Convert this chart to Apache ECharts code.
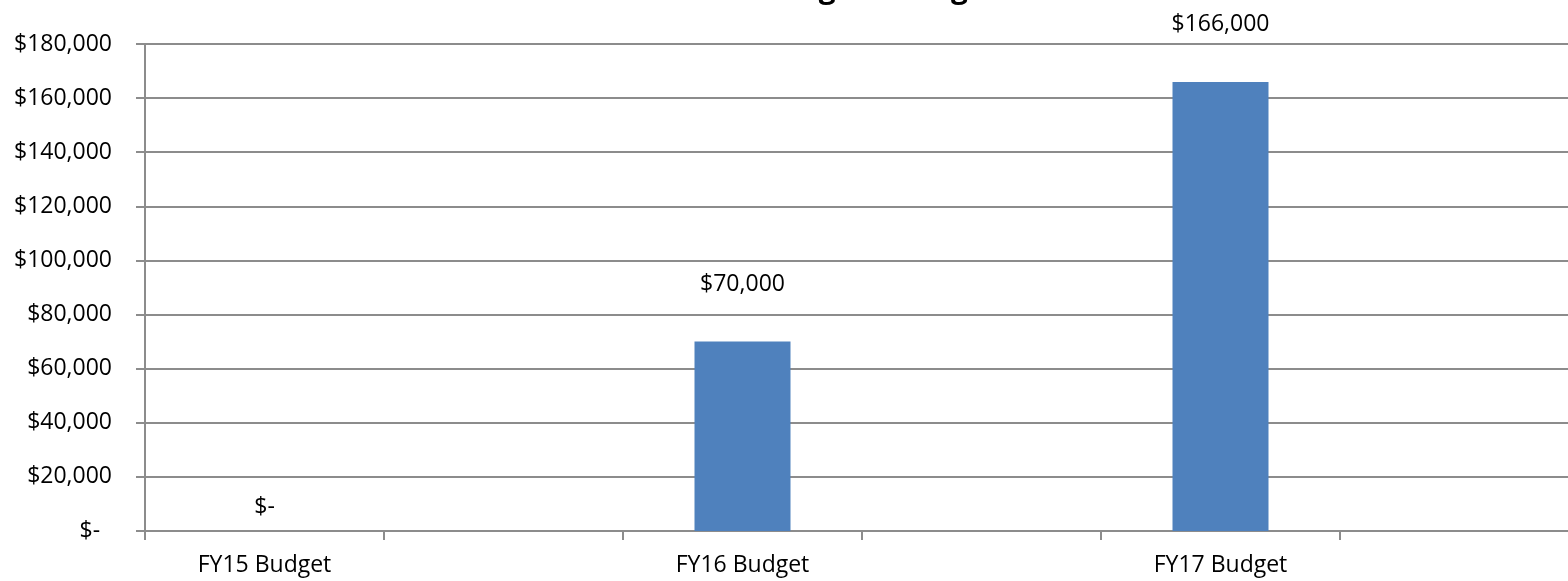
<!DOCTYPE html>
<html>
<head>
<meta charset="utf-8">
<script src="https://cdn.jsdelivr.net/npm/echarts@6/dist/echarts.min.js"></script>
<style>
  html, body { margin: 0; padding: 0; background: #fff; overflow: hidden; width: 1568px; height: 581px; }
  #chart { width: 1579px; height: 581px; }
</style>
</head>
<body>
<div id="chart"></div>
<script>
// Budget categories (blank slots keep the wide spacing between fiscal years)
const categories = ['FY15 Budget', '', 'FY16 Budget', '', 'FY17 Budget', ''];
const budgetValues = [0, null, 70000, null, 166000, null];
const yTicks = { min: 0, max: 180000, interval: 20000 };
const titleText = 'Annual Budget Change';

const FONT = '"Open Sans", "DejaVu Sans", sans-serif';

function money(v, pad) {
  if (v === 0) return pad ? '$-  ' : '$-';
  return '$' + v.toLocaleString('en-US');
}

const seriesData = budgetValues.map(function (v) {
  if (v === 0) {
    return { value: v, label: { distance: 12 } };
  }
  return v;
});

const chart = echarts.init(document.getElementById('chart'), null, { renderer: 'canvas' });
chart.setOption({
  animation: false,
  backgroundColor: '#ffffff',
  title: {
    text: titleText,
    left: 640,
    top: -31,
    textStyle: { fontFamily: FONT, fontWeight: 'bold', fontSize: 30, color: '#000' }
  },
  grid: { left: 145, right: 0, top: 44, bottom: 50, containLabel: false },
  xAxis: {
    type: 'category',
    data: categories,
    boundaryGap: true,
    axisLine: { show: true, lineStyle: { color: '#8c8c8c', width: 2 } },
    axisTick: { show: true, length: 9, alignWithLabel: false, lineStyle: { color: '#8c8c8c', width: 2 } },
    axisLabel: { interval: 0, margin: 23, fontFamily: FONT, fontSize: 23, color: '#000' },
    splitLine: { show: false }
  },
  yAxis: {
    type: 'value',
    min: yTicks.min,
    max: yTicks.max,
    interval: yTicks.interval,
    axisLine: { show: true, lineStyle: { color: '#8c8c8c', width: 2 } },
    axisTick: { show: true, length: 9, inside: false, lineStyle: { color: '#8c8c8c', width: 2 } },
    axisLabel: {
      margin: 33,
      fontFamily: FONT,
      fontSize: 23,
      color: '#000',
      formatter: function (v) { return money(v, true); }
    },
    splitLine: { show: true, lineStyle: { color: '#8c8c8c', width: 2 } }
  },
  series: [{
    type: 'bar',
    data: seriesData,
    barWidth: 96,
    itemStyle: { color: '#4F81BD' },
    label: {
      show: true,
      position: 'top',
      distance: 46,
      fontFamily: FONT,
      fontSize: 23,
      color: '#000',
      formatter: function (p) { return money(p.value, false); }
    }
  }]
});
</script>
</body>
</html>
